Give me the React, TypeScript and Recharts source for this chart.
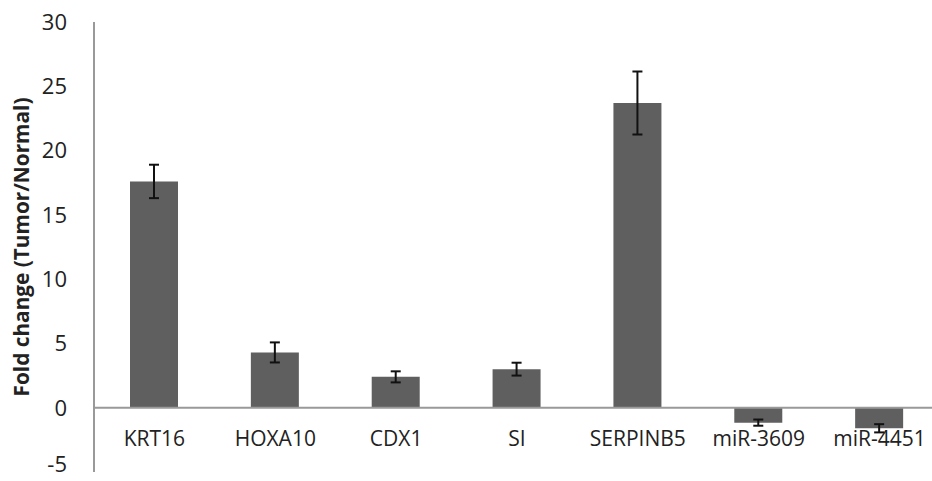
import React from "react";
import {
  BarChart,
  Bar,
  XAxis,
  YAxis,
  ErrorBar,
  ReferenceLine,
} from "recharts";

const genes = ["KRT16", "HOXA10", "CDX1", "SI", "SERPINB5", "miR-3609", "miR-4451"];
const foldChange = [17.6, 4.3, 2.4, 3.0, 23.7, -1.16, -1.6];
const errors = [1.3, 0.78, 0.43, 0.5, 2.45, 0.24, 0.32];
const yTicks = [-5, 0, 5, 10, 15, 20, 25, 30];

const data = genes.map((g, i) => ({ gene: g, value: foldChange[i], err: errors[i] }));

const FONT = "'Open Sans', 'Noto Sans', sans-serif";

// labels sit just under the zero line, not at the bottom of the plot
const GeneTick = (props: any) => {
  const { x, y, payload } = props;
  return (
    <text
      x={x}
      y={y}
      dy={-26}
      textAnchor="middle"
      fill="#222"
      fontSize={21}
      fontFamily={FONT}
    >
      {payload.value}
    </text>
  );
};

// lowest label nudged up a little so it isn't clipped by the bottom edge
const ValueTick = (props: any) => {
  const { x, y, payload } = props;
  const nudge = payload.value === yTicks[0] ? -8 : 0;
  return (
    <text
      x={x}
      y={y + nudge}
      dy="0.355em"
      textAnchor="end"
      fill="#222"
      fontSize={22}
      fontFamily={FONT}
    >
      {payload.value}
    </text>
  );
};

export default function App() {
  return (
    <div
      style={{
        position: "absolute",
        left: 0,
        top: 0,
        width: 932,
        height: 481,
        overflow: "hidden",
        background: "#fff",
      }}
    >
      <BarChart
        width={950}
        height={481}
        data={data}
        margin={{ top: 22, right: 10, bottom: 0, left: 0 }}
      >
        <XAxis
          dataKey="gene"
          height={9}
          axisLine={false}
          tickLine={false}
          tickSize={0}
          tickMargin={0}
          tick={<GeneTick />}
          interval={0}
        />
        <YAxis
          width={94}
          domain={[-5, 30]}
          ticks={yTicks}
          interval={0}
          tickLine={false}
          tickSize={0}
          tickMargin={27}
          axisLine={{ stroke: "#999", strokeWidth: 2 }}
          tick={<ValueTick />}
          label={{
            value: "Fold change (Tumor/Normal)",
            angle: -90,
            position: "insideLeft",
            offset: 22,
            style: {
              textAnchor: "middle",
              fontWeight: "bold",
              fontSize: 20.8,
              fontFamily: FONT,
              fill: "#222",
            },
          }}
        />
        <ReferenceLine y={0} stroke="#999" strokeWidth={2} />
        <Bar dataKey="value" fill="#5f5f5f" barSize={48} isAnimationActive={false}>
          <ErrorBar dataKey="err" width={5} stroke="#111" strokeWidth={2} />
        </Bar>
      </BarChart>
    </div>
  );
}
